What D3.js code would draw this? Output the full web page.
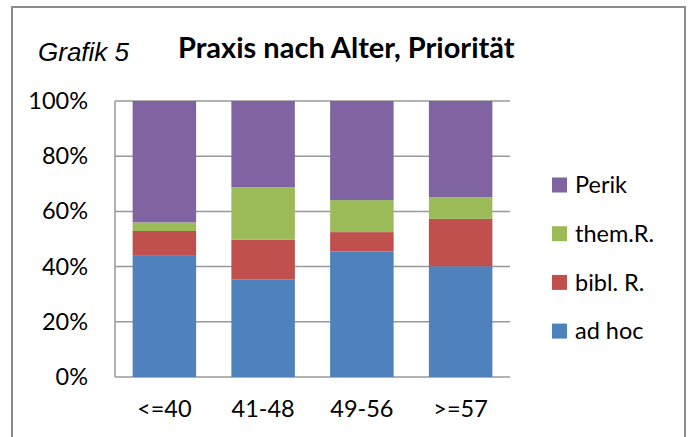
<!DOCTYPE html>
<html>
<head>
<meta charset="utf-8">
<script src="https://cdn.jsdelivr.net/npm/d3@7"></script>
<style>
  html, body { margin: 0; padding: 0; background: #fff; }
  svg { display: block; }
</style>
</head>
<body>
<svg id="chart" width="692" height="437"></svg>
<script>
// Age groups on the x axis
const categories = ["<=40", "41-48", "49-56", ">=57"];
// Share of each practice per age group, in percent (stacked bottom to top)
const seriesNames = ["ad hoc", "bibl. R.", "them.R.", "Perik"];
const adHoc  = [43.9, 35.4, 45.5, 40.1];
const biblR  = [9.0, 14.4, 7.0, 17.2];
const themR  = [3.1, 19.0, 11.6, 7.8];
const perik  = [44.0, 31.2, 35.9, 34.9];
const yTicks = [0, 20, 40, 60, 80, 100];
const colors = ["#4F81BD", "#C0504D", "#9BBB59", "#8064A2"];

const rows = categories.map((c, i) => ({
  cat: c,
  "ad hoc": adHoc[i],
  "bibl. R.": biblR[i],
  "them.R.": themR[i],
  "Perik": perik[i]
}));

const svg = d3.select("#chart");
const font = "Lato, 'Open Sans', sans-serif";

// outer frame
svg.append("rect")
  .attr("x", 12).attr("y", 7)
  .attr("width", 673).attr("height", 445)
  .attr("fill", "#fff")
  .attr("stroke", "#8c8c8c")
  .attr("stroke-width", 2);

const plot = { left: 115, right: 510, top: 101, bottom: 377 };

const x = d3.scaleBand()
  .domain(categories)
  .range([plot.left, plot.right])
  .paddingInner(0.357)
  .paddingOuter(0.1785);

const y = d3.scaleLinear()
  .domain([0, 100])
  .range([plot.bottom, plot.top]);

const color = d3.scaleOrdinal().domain(seriesNames).range(colors);

// horizontal gridlines
svg.append("g")
  .selectAll("line")
  .data(yTicks)
  .join("line")
  .attr("x1", plot.left).attr("x2", plot.right)
  .attr("y1", d => y(d)).attr("y2", d => y(d))
  .attr("stroke", "#999")
  .attr("stroke-width", 1.5);

// y axis line
svg.append("line")
  .attr("x1", plot.left).attr("x2", plot.left)
  .attr("y1", plot.top).attr("y2", plot.bottom)
  .attr("stroke", "#999")
  .attr("stroke-width", 1.5);

// stacked bars
const stacked = d3.stack().keys(seriesNames)(rows);
svg.append("g")
  .selectAll("g")
  .data(stacked)
  .join("g")
  .attr("fill", d => color(d.key))
  .selectAll("rect")
  .data(d => d)
  .join("rect")
  .attr("x", d => x(d.data.cat))
  .attr("width", x.bandwidth())
  .attr("y", d => y(d[1]))
  .attr("height", d => y(d[0]) - y(d[1]));

// y tick labels
const yAxis = d3.axisLeft(y)
  .tickValues(yTicks)
  .tickFormat(d => d + "%")
  .tickSize(0)
  .tickPadding(27);
const gy = svg.append("g")
  .attr("transform", `translate(${plot.left},0)`)
  .call(yAxis);
gy.select(".domain").remove();
gy.selectAll("text")
  .attr("font-family", font)
  .attr("font-size", 23.5)
  .attr("fill", "#000");

// x tick labels
const xAxis = d3.axisBottom(x).tickSize(0).tickPadding(23);
const gx = svg.append("g")
  .attr("transform", `translate(0,${plot.bottom})`)
  .call(xAxis);
gx.select(".domain").remove();
gx.selectAll("text")
  .attr("font-family", font)
  .attr("font-size", 23.5)
  .attr("fill", "#000");

// titles
svg.append("text")
  .attr("x", 38).attr("y", 61)
  .attr("font-family", "'Liberation Sans', Arial, sans-serif")
  .attr("font-style", "italic")
  .attr("font-size", 26)
  .attr("fill", "#000")
  .text("Grafik 5");

svg.append("text")
  .attr("x", 178).attr("y", 58)
  .attr("font-family", font)
  .attr("font-weight", "bold")
  .attr("font-size", 29)
  .attr("fill", "#000")
  .text("Praxis nach Alter, Priorität");

// legend, top entry is the top of the stack
const legendItems = seriesNames.slice().reverse();
const legend = svg.append("g")
  .selectAll("g")
  .data(legendItems)
  .join("g")
  .attr("transform", (d, i) => `translate(552,${185 + i * 48.7})`);
legend.append("rect")
  .attr("x", 0).attr("y", -7.5)
  .attr("width", 15).attr("height", 15)
  .attr("fill", d => color(d));
legend.append("text")
  .attr("x", 23).attr("y", 0)
  .attr("dy", "0.35em")
  .attr("font-family", font)
  .attr("font-size", 23.5)
  .attr("fill", "#000")
  .text(d => d);
</script>
</body>
</html>
